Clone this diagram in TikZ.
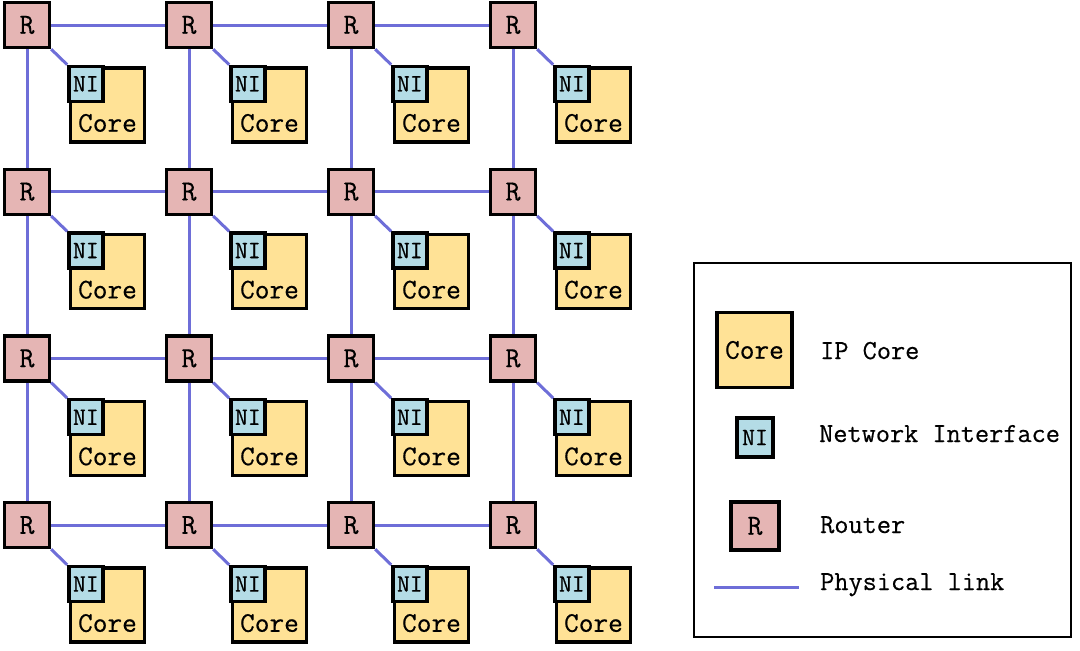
\documentclass[tikz,border=0pt]{standalone}
\usepackage{fontspec}
\setmonofont{Latin Modern Mono}[FakeBold=0.5]
\usetikzlibrary{positioning}
\definecolor{routerpink}{RGB}{229,181,180}
\definecolor{coreyellow}{RGB}{255,226,150}
\definecolor{niblue}{RGB}{180,220,230}
\definecolor{linkblue}{RGB}{110,110,216}
\begin{document}
\begin{tikzpicture}[x=1pt,y=-1pt,
  router/.style={draw, line width=3.3pt, fill=routerpink, minimum size=45pt, inner sep=0pt,
    font=\ttfamily\fontsize{29}{29}\selectfont},
  core/.style={draw, line width=3.3pt, fill=coreyellow, minimum size=74pt, inner sep=0pt},
  ni/.style={draw, line width=3.3pt, fill=niblue, minimum width=34pt, minimum height=35pt, inner sep=0pt,
    font=\ttfamily\fontsize{25}{25}\selectfont},
  txt/.style={inner sep=0pt, font=\ttfamily\fontsize{27.5}{27.5}\selectfont},
  link/.style={draw=linkblue, line width=3pt}]
\useasboundingbox (0,0) rectangle (1080,651);
% routers, cores and network interfaces
\foreach \i in {0,...,3} {
  \foreach \j in {0,...,3} {
    \node[router] (r-\i-\j) at ({27+162*\i},{25+166.7*\j}) {R};
    \node[core] (c-\i-\j) at ({107.5+162*\i},{105+166.7*\j}) {};
    \node[ni, anchor=north west] (n-\i-\j) at ([xshift=-1.65pt,yshift=1.65pt]c-\i-\j.north west) {NI};
    \node[txt, font=\ttfamily\fontsize{28.5}{28.5}\selectfont] (t-\i-\j) at ([yshift=-18pt]c-\i-\j.center) {Core};
    \draw[link] (r-\i-\j.south east) -- (n-\i-\j.north west);
  }
}
% mesh links
\foreach \i [evaluate=\i as \k using int(\i+1)] in {0,1,2} {
  \foreach \j in {0,...,3} {
    \draw[link] (r-\i-\j) -- (r-\k-\j);
    \draw[link] (r-\j-\i) -- (r-\j-\k);
  }
}
% legend
\node[draw, line width=1.5pt, minimum width=377pt, minimum height=374pt] (legend) at (882.5,450) {};
\node[core, minimum size=75pt] (lcore) at (754.5,350) {};
\node[txt, font=\ttfamily\fontsize{28.5}{28.5}\selectfont] (lcoretxt) at (lcore) {Core};
\node[ni, minimum width=36pt, minimum height=39pt] (lni) at (755,437.5) {NI};
\node[router, minimum size=48pt] (lr) at (755,526) {R};
\coordinate (la) at (714,587);
\coordinate (lb) at (799,587);
\draw[link] (la) -- (lb);
\node[txt, anchor=base west] (tcore) at (820,359) {IP Core};
\node[txt, anchor=base west] (tni) at (819,442) {Network Interface};
\node[txt, anchor=base west] (tr) at (820,533) {Router};
\node[txt, anchor=base west] (tl) at (820,590) {Physical link};
\end{tikzpicture}
\end{document}
